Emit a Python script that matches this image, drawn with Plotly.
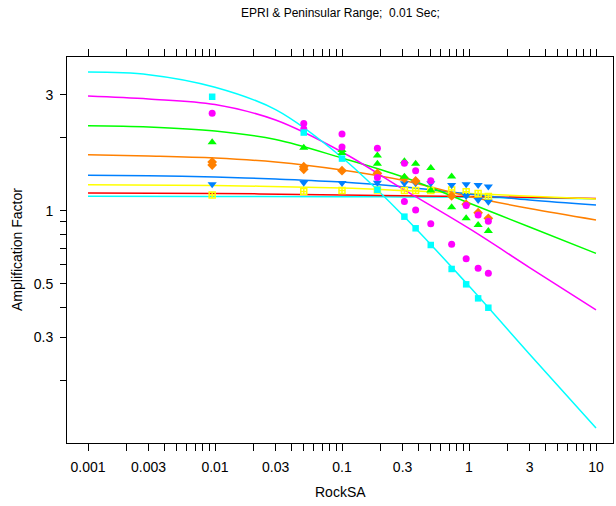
import plotly.graph_objects as go

# ---------------- data ----------------
rock_sa = [0.0095, 0.05, 0.1, 0.19, 0.31, 0.38, 0.5, 0.73, 0.95, 1.18, 1.42]

cyan_sq = [2.95, 2.10, 1.64, 1.22, 0.945, 0.846, 0.722, 0.575, 0.497, 0.435, 0.398]
magenta_a = [2.52, 2.29, 2.07, 1.81, 1.57, 1.46, 1.33, None, 1.05, 0.96, 0.905]
magenta_b = [None, 2.17, 1.83, 1.37, 1.09, 1.007, 0.884, 0.727, 0.634, 0.579, 0.552]
green_a = [1.915, 1.82, 1.78, 1.69, 1.60, 1.56, 1.50, 1.385, None, None, None]
green_b = [None, None, 1.73, 1.56, 1.38, None, 1.21, 1.033, 0.93, 0.873, 0.825]
orange_a = [1.588, 1.519, 1.462, 1.426, 1.36, 1.326, None, 1.15, 1.063, 0.981, 0.93]
orange_b = [1.543, 1.482, None, None, None, None, None, None, None, None, None]
blue_a = [1.285, 1.305, 1.30, 1.305, 1.297, 1.297, 1.297, 1.276, 1.285, 1.276, 1.258]
blue_b = [None, None, None, None, None, None, None, None, 1.15, 1.107, 1.089]
yellow_p = [1.161, 1.20, 1.211, 1.217, 1.211, 1.21, 1.21, 1.217, 1.197, 1.177, 1.144]

# fitted curves
fit_x = [0.001, 0.003, 0.01, 0.03, 0.1, 0.3, 1, 3, 10]
cyan_fit = [3.73, 3.64, 3.23, 2.61, 1.657, 0.96, 0.489, 0.256, 0.127]
magenta_fit = [2.97, 2.888, 2.74, 2.366, 1.746, 1.23, 0.845, 0.583, 0.3895]
green_fit = [2.24, 2.215, 2.132, 1.966, 1.649, 1.38, 1.076, 0.856, 0.667]
orange_fit = [1.70, 1.681, 1.649, 1.588, 1.472, 1.335, 1.144, 1.021, 0.916]
blue_fit = [1.40, 1.393, 1.377, 1.351, 1.313, 1.254, 1.172, 1.107, 1.056]
flat_x = [0.001, 0.01, 0.1, 0.3, 1, 10]
yellow_fit = [1.28, 1.270, 1.240, 1.212, 1.177, 1.117]
red_fit = [1.183, 1.178, 1.161, 1.152, 1.144, 1.123]
cyan2_fit = [1.146, 1.144, 1.142, 1.139, 1.135, 1.12]

x_tick_vals = [1e-3, 2e-3, 3e-3, 4e-3, 5e-3, 6e-3, 7e-3, 8e-3, 9e-3,
               1e-2, 2e-2, 3e-2, 4e-2, 5e-2, 6e-2, 7e-2, 8e-2, 9e-2,
               0.1, 0.2, 0.3, 0.4, 0.5, 0.6, 0.7, 0.8, 0.9,
               1, 2, 3, 4, 5, 6, 7, 8, 9, 10]
x_tick_text = ["0.001", "", "0.003", "", "", "", "", "", "",
               "0.01", "", "0.03", "", "", "", "", "", "",
               "0.1", "", "0.3", "", "", "", "", "", "",
               "1", "", "3", "", "", "", "", "", "", "10"]
y_tick_vals = [0.2, 0.3, 0.4, 0.5, 0.6, 0.7, 0.8, 0.9, 1, 2, 3]
y_tick_text = ["", "0.3", "", "0.5", "", "", "", "", "1", "", "3"]

CYAN, MAG, GRN, ORG, BLU, YEL, RED = "#00FFFF", "#FF00FF", "#00FF00", "#FF8000", "#0080FF", "#FFFF00", "#FF0000"

fig = go.Figure()

def curve(x, y, c):
    fig.add_trace(go.Scatter(x=x, y=y, mode="lines", line=dict(color=c, width=1.5, shape="spline", smoothing=1),
                             hoverinfo="skip", showlegend=False))

curve(flat_x, cyan2_fit, CYAN)
curve(flat_x, red_fit, RED)
curve(flat_x, yellow_fit, YEL)
curve(fit_x, blue_fit, BLU)
curve(fit_x, orange_fit, ORG)
curve(fit_x, green_fit, GRN)
curve(fit_x, magenta_fit, MAG)
curve(fit_x, cyan_fit, CYAN)

def pts(y, c, sym, size, open_=False):
    m = dict(color=c, symbol=sym, size=size)
    if open_:
        m["line"] = dict(color=c, width=1.5)
    else:
        m["line"] = dict(width=0)
    fig.add_trace(go.Scatter(x=rock_sa, y=y, mode="markers", marker=m, showlegend=False))

pts(yellow_p, YEL, "square-cross-open", 6, True)
pts(blue_a, BLU, "triangle-down", 8)
pts(blue_b, BLU, "triangle-down", 8)
pts(orange_a, ORG, "diamond", 7.5)
pts(orange_b, ORG, "diamond", 7.5)
pts(green_a, GRN, "triangle-up", 8)
pts(green_b, GRN, "triangle-up", 8)
pts(magenta_a, MAG, "circle", 7)
pts(magenta_b, MAG, "circle", 7)
pts(cyan_sq, CYAN, "square", 6.5)

FONT = "Liberation Sans, Arial, sans-serif"
axis_common = dict(showgrid=False, zeroline=False, showline=True, linecolor="black", linewidth=1,
                   ticks="outside", tickcolor="black", tickwidth=1,
                   tickfont=dict(family=FONT, size=14, color="black"))

fig.update_layout(
    width=616, height=506,
    margin=dict(l=67, r=3, t=57, b=63),
    paper_bgcolor="white", plot_bgcolor="white",
    xaxis=dict(type="log", range=[-3.1654, 1.1339], tickvals=x_tick_vals, ticktext=x_tick_text,
               mirror="ticks", ticklen=7, ticklabelstandoff=4, **axis_common),
    yaxis=dict(type="log", range=[-0.958, 0.6338], tickvals=y_tick_vals, ticktext=y_tick_text,
               mirror=True, ticklen=6, ticklabelstandoff=4, **axis_common),
    annotations=[
        dict(text="EPRI & Peninsular Range;  0.01 Sec;", xref="paper", yref="paper", x=0.5, y=1,
             xanchor="center", yanchor="middle", yshift=44, showarrow=False,
             font=dict(family=FONT, size=12, color="black")),
        dict(text="RockSA", xref="paper", yref="paper", x=0.5, y=0, xanchor="center", yanchor="middle",
             yshift=-49, showarrow=False, font=dict(family=FONT, size=14, color="black")),
        dict(text="Amplification Factor", xref="paper", yref="paper", x=0, y=0.5, xanchor="center",
             yanchor="middle", xshift=-50, textangle=-90, showarrow=False,
             font=dict(family=FONT, size=14, color="black")),
    ],
)

fig.write_html("out.html")
